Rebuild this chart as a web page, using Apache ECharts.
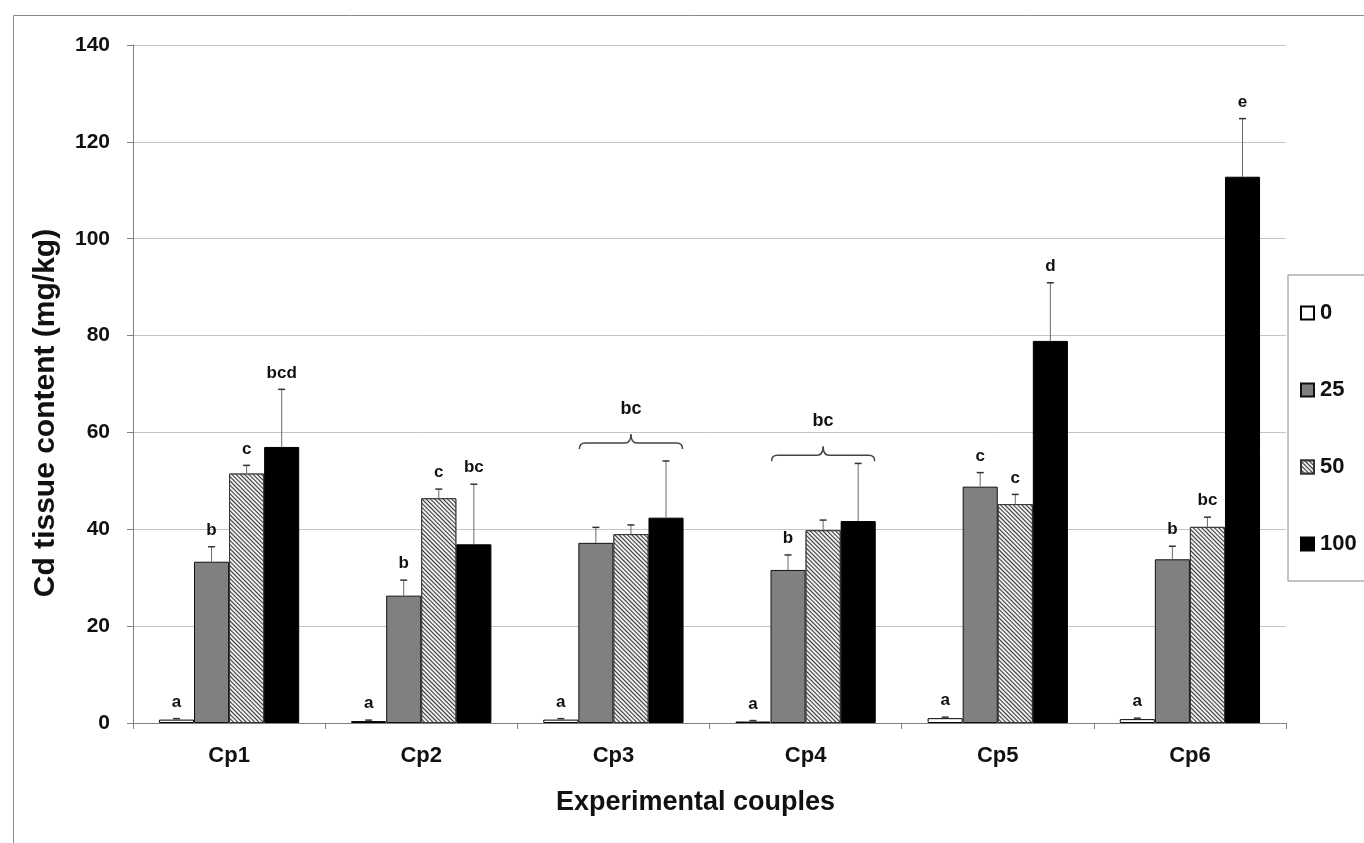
<!DOCTYPE html>
<html>
<head>
<meta charset="utf-8">
<script src="https://cdn.jsdelivr.net/npm/echarts@6/dist/echarts.min.js"></script>
<style>
html,body{margin:0;padding:0;background:#fff;}
#chart{width:1364px;height:843px;}
</style>
</head>
<body>
<div id="chart"></div>
<script>
// ---- data ----
const categories = ['Cp1', 'Cp2', 'Cp3', 'Cp4', 'Cp5', 'Cp6'];
const seriesNames = ['0', '25', '50', '100'];
const mean0   = [0.7, 0.4, 0.7, 0.3, 1.0, 0.8];
const mean25  = [33.3, 26.3, 37.2, 31.6, 48.8, 33.8];
const mean50  = [51.5, 46.4, 39.0, 39.8, 45.2, 40.5];
const mean100 = [57.0, 36.9, 42.4, 41.7, 78.9, 112.8];
const err0   = [0.2, 0.2, 0.2, 0.2, 0.2, 0.2];
const err25  = [3.1, 3.2, 3.2, 3.1, 2.9, 2.7];
const err50  = [1.7, 1.9, 1.9, 2.1, 2.0, 2.0];
const err100 = [11.9, 12.4, 11.7, 11.9, 12.0, 12.0];
const letters0   = ['a', 'a', 'a', 'a', 'a', 'a'];
const letters25  = ['b', 'b', '', 'b', 'c', 'b'];
const letters50  = ['c', 'c', '', '', 'c', 'bc'];
const letters100 = ['bcd', 'bc', '', '', 'd', 'e'];
const bracketCats   = ['Cp3', 'Cp4'];
const bracketLevels = [57.8, 55.3];
const bracketLabels = ['bc', 'bc'];
const yTicks = [0, 20, 40, 60, 80, 100, 120, 140];

const means = [mean0, mean25, mean50, mean100];
const errs = [err0, err25, err50, err100];
const letters = [letters0, letters25, letters50, letters100];

const FONT = '"Liberation Sans", Arial, sans-serif';
const CAT_GAP = 0.27;

const barStyles = [
  { color: '#ffffff', borderColor: '#000', borderWidth: 1 },
  { color: '#808080', borderColor: '#111', borderWidth: 1 },
  { color: '#ffffff', borderColor: '#333', borderWidth: 1,
    decal: { symbol: 'rect', symbolSize: 1, dashArrayX: [1, 0], dashArrayY: [1, 2],
             rotation: Math.PI / 4, color: '#333333', backgroundColor: '#eeeeee' } },
  { color: '#000000', borderColor: '#000', borderWidth: 1 }
];

const barSeries = seriesNames.map((name, s) => ({
  name: name,
  type: 'bar',
  data: means[s],
  barGap: 0,
  barCategoryGap: (CAT_GAP * 100) + '%',
  itemStyle: barStyles[s],
  emphasis: { disabled: true },
  z: 2
}));

// error bars + letters
const errData = [];
categories.forEach((c, i) => {
  for (let s = 0; s < 4; s++) {
    errData.push([i, s, means[s][i], errs[s][i], letters[s][i]]);
  }
});

const errSeries = {
  type: 'custom',
  name: 'err',
  z: 5,
  silent: true,
  dimensions: ['cat', 'ser', 'mean', 'err', 'letter'],
  encode: { x: 0, y: 2 },
  data: errData,
  renderItem: function (params, api) {
    const i = api.value(0), s = api.value(1), m = api.value(2), e = api.value(3);
    const letter = errData[params.dataIndex][4];
    const band = api.size([1, 0])[0];
    const bw = band * (1 - CAT_GAP) / 4;
    const c0 = api.coord([i, m]);
    const c1 = api.coord([i, m + e]);
    const x = c0[0] + (s - 1.5) * bw;
    const children = [
      { type: 'line', shape: { x1: x, y1: c0[1], x2: x, y2: c1[1] },
        style: { stroke: '#6a6a6a', lineWidth: 1 } },
      { type: 'line', shape: { x1: x - 3.5, y1: c1[1], x2: x + 3.5, y2: c1[1] },
        style: { stroke: '#333', lineWidth: 1.5 } }
    ];
    if (letter) {
      children.push({
        type: 'text',
        style: { text: letter, x: x, y: c1[1] - 8, align: 'center', verticalAlign: 'bottom',
                 font: 'bold 17px ' + FONT, fill: '#111' }
      });
    }
    return { type: 'group', children: children };
  }
};

const bracketData = bracketCats.map((c, k) => [categories.indexOf(c), bracketLevels[k], bracketLabels[k]]);
const bracketSeries = {
  type: 'custom',
  name: 'bracket',
  z: 5,
  silent: true,
  encode: { x: 0, y: 1 },
  data: bracketData,
  renderItem: function (params, api) {
    const i = api.value(0), lvl = api.value(1);
    const lab = bracketData[params.dataIndex][2];
    const band = api.size([1, 0])[0];
    const bw = band * (1 - CAT_GAP) / 4;
    const p = api.coord([i, lvl]);
    const x1 = p[0] - bw + 1, x2 = p[0] + 2 * bw - 1, y = p[1];
    const xm = (x1 + x2) / 2;
    const d = 'M' + x1 + ',' + (y + 6) + ' Q' + x1 + ',' + y + ' ' + (x1 + 6) + ',' + y +
      ' L' + (xm - 6) + ',' + y + ' Q' + xm + ',' + y + ' ' + xm + ',' + (y - 9) +
      ' Q' + xm + ',' + y + ' ' + (xm + 6) + ',' + y +
      ' L' + (x2 - 6) + ',' + y + ' Q' + x2 + ',' + y + ' ' + x2 + ',' + (y + 6);
    return {
      type: 'group',
      children: [
        { type: 'path', shape: { pathData: d },
          style: { stroke: '#444', lineWidth: 1.5, fill: null } },
        { type: 'text', style: { text: lab, x: xm, y: y - 34, align: 'center', verticalAlign: 'middle',
          font: 'bold 18px ' + FONT, fill: '#111' } }
      ]
    };
  }
};

const chart = echarts.init(document.getElementById('chart'), null, { renderer: 'canvas' });
chart.setOption({
  animation: false,
  backgroundColor: '#ffffff',
  textStyle: { fontFamily: FONT },
  graphic: [
    { type: 'rect', left: 11, top: 13, shape: { x: 0, y: 0, width: 1400, height: 900 },
      style: { fill: null, stroke: '#8a8a8a', lineWidth: 1 }, z: -10, silent: true }
  ],
  grid: { left: 133, right: 78, top: 45, bottom: 120, containLabel: false },
  legend: {
    data: seriesNames,
    orient: 'vertical',
    left: 1288,
    top: 275,
    icon: 'rect',
    padding: [27, 40, 26, 12],
    itemWidth: 13,
    itemHeight: 13,
    itemGap: 55,
    borderColor: '#888',
    borderWidth: 1,
    backgroundColor: '#fff',
    textStyle: { fontFamily: FONT, fontSize: 22, fontWeight: 'bold', color: '#111', padding: [0, 0, 0, 1] }
  },
  xAxis: {
    type: 'category',
    data: categories,
    name: 'Experimental couples',
    nameLocation: 'middle',
    nameGap: 66,
    nameTextStyle: { fontFamily: FONT, fontSize: 27, fontWeight: 'bold', color: '#111', padding: [0, 28, 0, 0] },
    axisLine: { lineStyle: { color: '#808080', width: 1 } },
    axisTick: { show: true, length: 6, lineStyle: { color: '#808080' } },
    axisLabel: { margin: 22, fontFamily: FONT, fontSize: 22, fontWeight: 'bold', color: '#111' },
    splitLine: { show: false }
  },
  yAxis: {
    type: 'value',
    min: yTicks[0],
    max: yTicks[yTicks.length - 1],
    interval: yTicks[1] - yTicks[0],
    name: 'Cd tissue content (mg/kg)',
    nameLocation: 'middle',
    nameGap: 72,
    nameRotate: 90,
    nameTextStyle: { fontFamily: FONT, fontSize: 30, fontWeight: 'bold', color: '#111', padding: [0, 58, 0, 0] },
    axisLine: { show: true, lineStyle: { color: '#808080', width: 1 } },
    axisTick: { show: true, length: 6, lineStyle: { color: '#808080' } },
    axisLabel: { margin: 23, fontFamily: FONT, fontSize: 21, fontWeight: 'bold', color: '#111' },
    splitLine: { show: true, lineStyle: { color: '#c4c4c4', width: 1 } }
  },
  series: barSeries.concat([errSeries, bracketSeries])
});
</script>
</body>
</html>
